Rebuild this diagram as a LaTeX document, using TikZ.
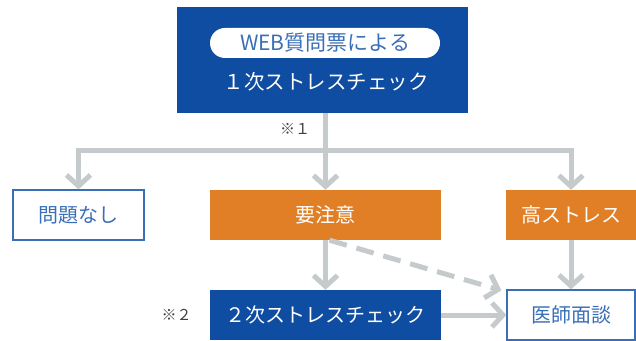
\documentclass[tikz,border=0pt]{standalone}
\usepackage{fontspec}
\setmainfont{Noto Sans CJK JP}
\usetikzlibrary{arrows.meta}

\definecolor{navy}{HTML}{0E4DA1}
\definecolor{amber}{HTML}{E07F26}
\definecolor{linegrey}{HTML}{C5CACC}
\definecolor{framblue}{HTML}{3A6FB8}

\begin{document}
\begin{tikzpicture}[x=1pt,y=1pt,
    solid box/.style={minimum height=50pt,inner sep=0pt,text=white,font=\fontsize{20}{20}\selectfont},
    blue box/.style={solid box,fill=navy},
    orange box/.style={solid box,fill=amber},
    line box/.style={minimum height=50pt,inner sep=0pt,draw=framblue,line width=1.2pt,fill=white,text=framblue,font=\fontsize{20}{20}\selectfont},
    conn/.style={draw=linegrey,line width=5pt,line join=miter,-{Straight Barb[length=11pt,width=24pt,line width=5pt]}},
    note/.style={text=black!75,font=\fontsize{15}{15}\selectfont}]
      \useasboundingbox (0,0) rectangle (636,340);

      % first check
      \node[fill=navy,minimum width=291pt,minimum height=106pt,inner sep=0pt] (first) at (322.5,280) {};
      \node[fill=white,rounded corners=15pt,minimum width=230pt,minimum height=30pt,inner sep=0pt,
            text=framblue,font=\fontsize{21}{21}\selectfont] (web) at (325,297) {WEB質問票による};
      \node[text=white,font=\fontsize{20.5}{20.5}\selectfont] (firstlabel) at (326,258) {１次ストレスチェック};
      \node[note] (mark1) at (295,211.5) {※１};

      % results
      \node[line box,minimum width=131pt] (none) at (78.5,125) {問題なし};
      \node[orange box,minimum width=231pt] (caution) at (325.5,125) {要注意};
      \node[orange box,minimum width=130pt] (high) at (571,125) {高ストレス};

      % follow up
      \node[blue box,minimum width=231pt] (second) at (325.5,25) {２次ストレスチェック};
      \node[line box,minimum width=128pt] (doctor) at (571,25) {医師面談};
      \node[note] (mark2) at (176.5,25) {※２};

      \coordinate (split) at (325.5,189);

      \draw[conn] (split |- first.south) -- (caution.north);
      \draw[conn] (split) -| (none.north);
      \draw[conn] (split) -| (high.north);
      \draw[conn] (caution.south) -- (second.north);
      \draw[conn,dash pattern=on 18pt off 10pt] ([xshift=4pt]caution.south) -- ([xshift=-5pt,yshift=-1pt]doctor.north west);
      \draw[conn] (second.east) -- (doctor.west);
      \draw[conn] (high.south) -- (doctor.north);
\end{tikzpicture}
\end{document}
